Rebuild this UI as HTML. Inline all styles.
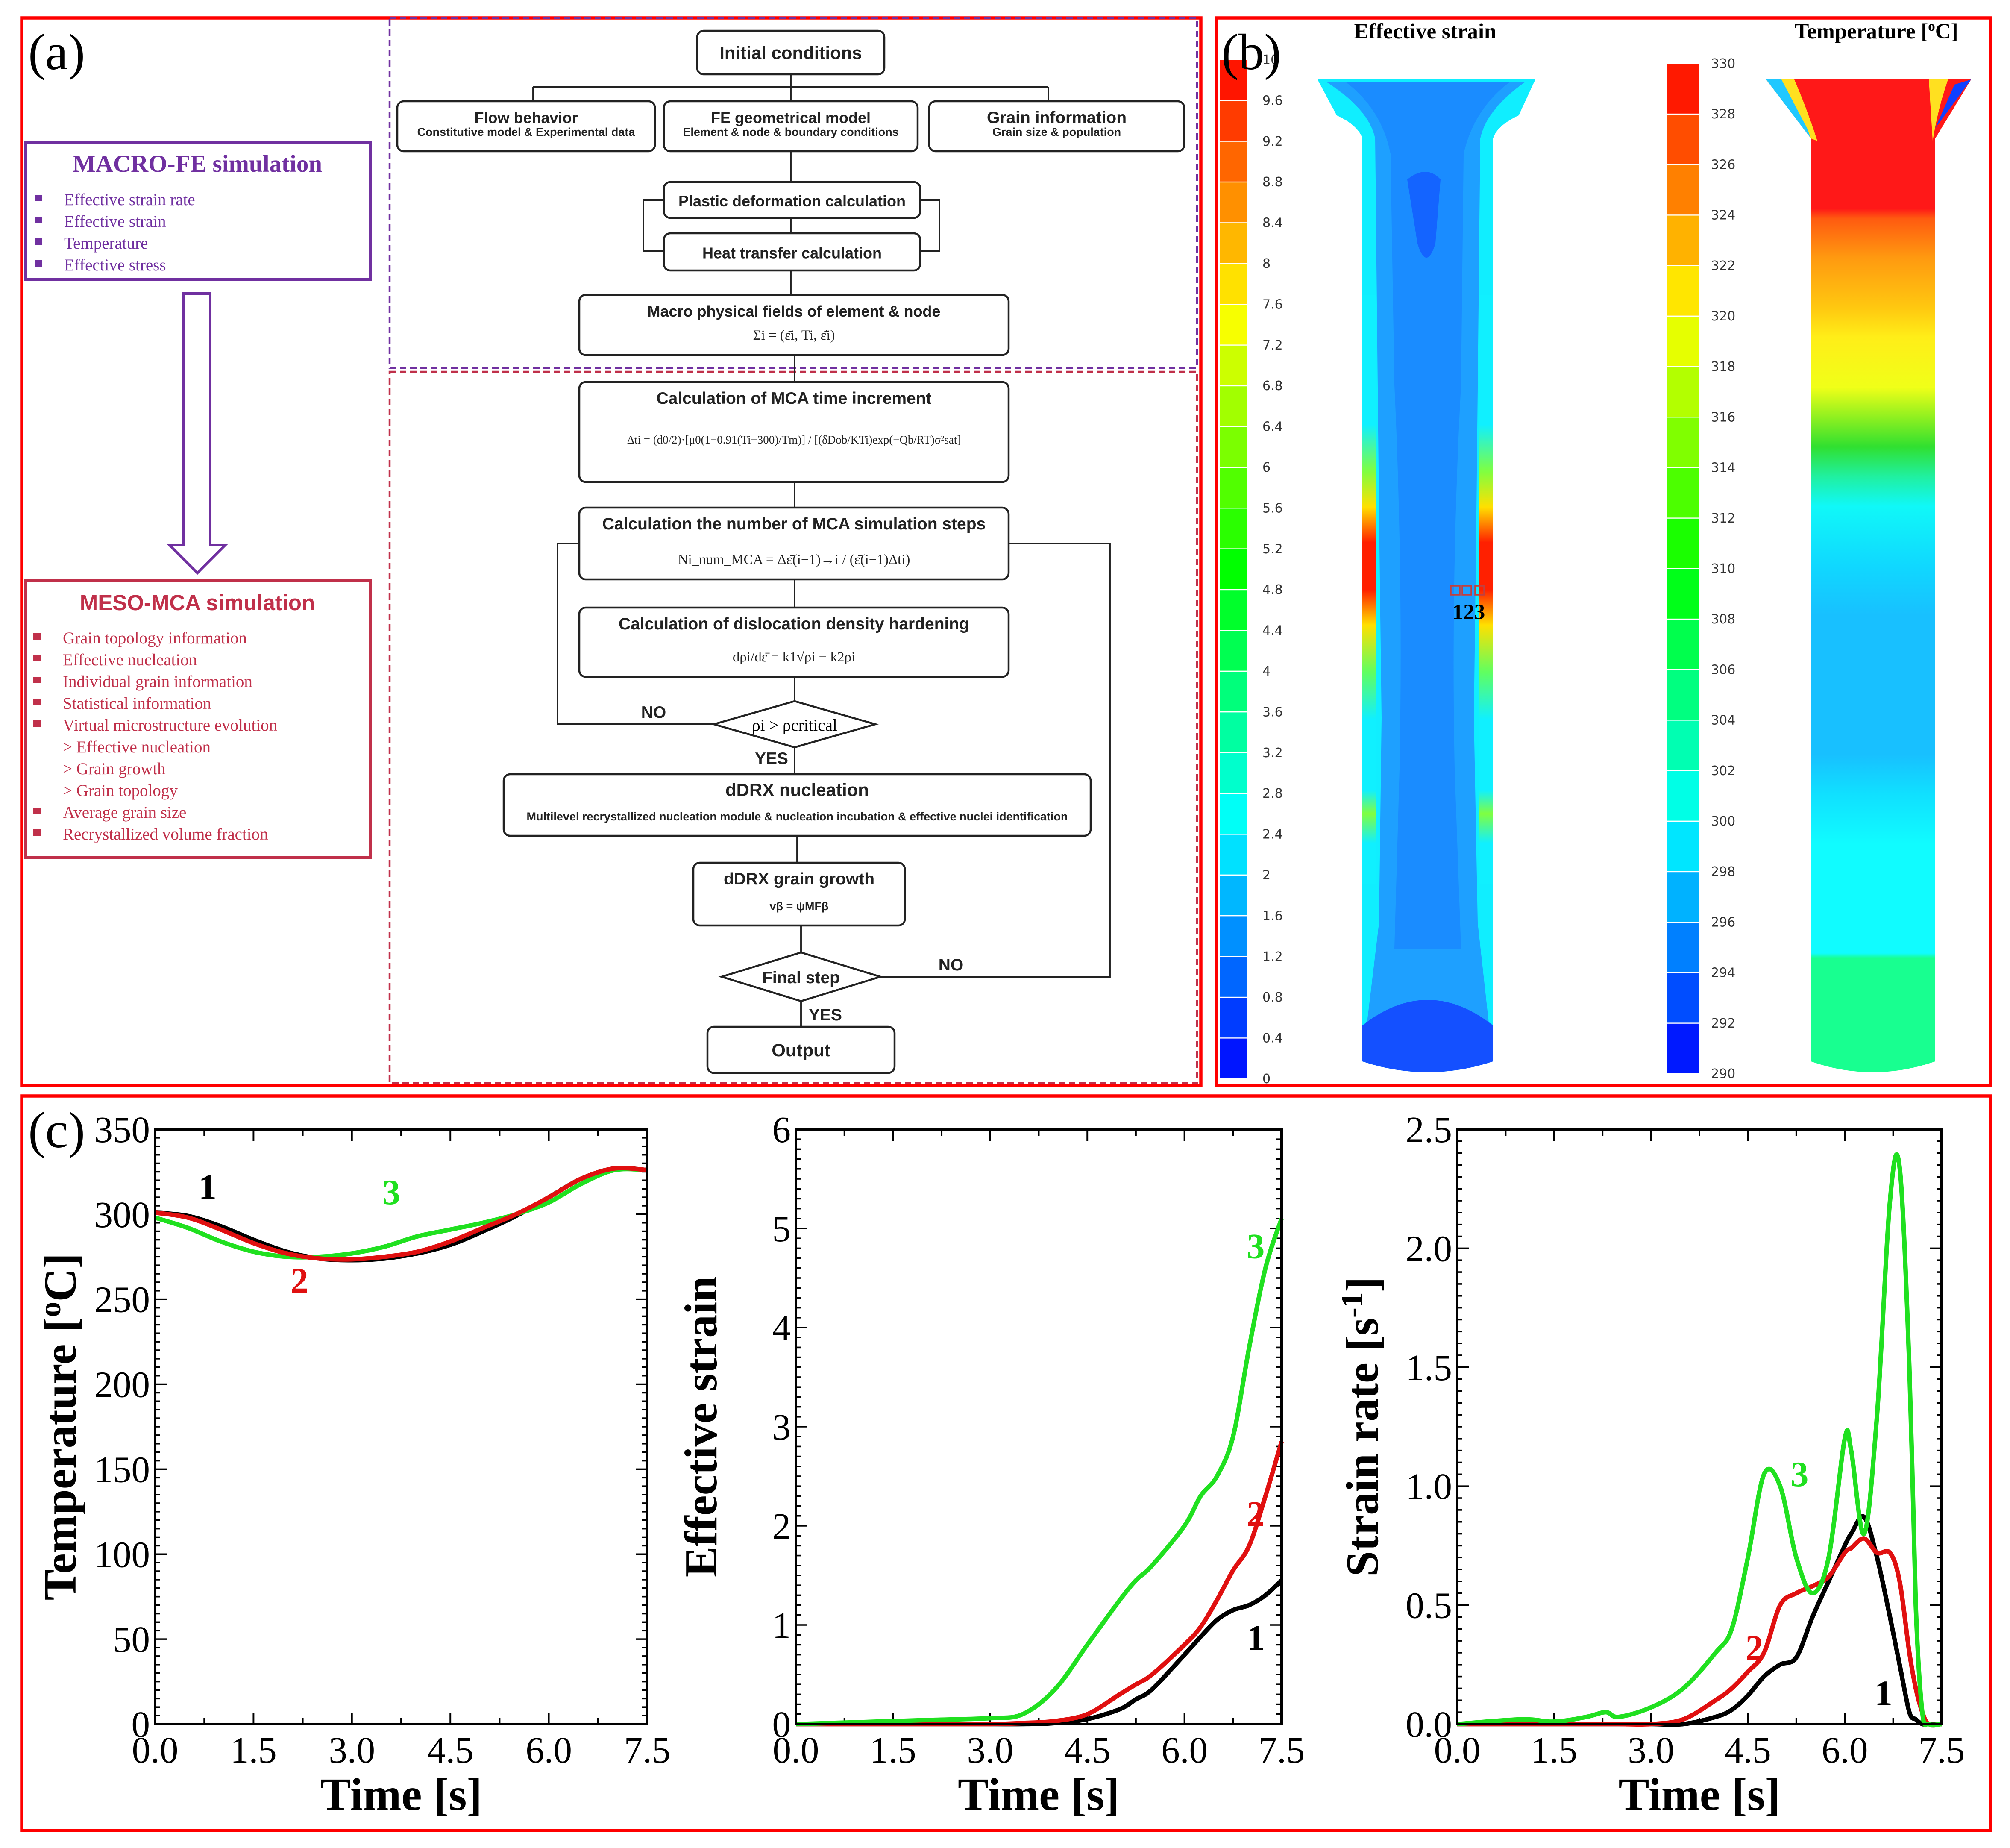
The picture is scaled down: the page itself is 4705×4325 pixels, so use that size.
<!DOCTYPE html>
<html><head><meta charset="utf-8"><style>
html,body{margin:0;padding:0;background:#fff;width:4705px;height:4325px;overflow:hidden}
svg{display:block}
.fb{font-family:"Liberation Sans",sans-serif;font-weight:bold;fill:#222}
.sr{font-family:"Liberation Serif",serif}
</style></head><body>
<svg id="root" width="4705" height="4325" viewBox="0 0 1568.33 1441.67" xmlns="http://www.w3.org/2000/svg">
<rect x="0" y="0" width="1568.33" height="1441.67" fill="#fff"/>
<rect x="17" y="14" width="920" height="833" fill="none" stroke="#f00" stroke-width="2.5"/>
<rect x="949" y="14" width="604" height="833" fill="none" stroke="#f00" stroke-width="2.5"/>
<rect x="17" y="855" width="1536" height="573" fill="none" stroke="#f00" stroke-width="2.5"/>
<text class="sr" x="22" y="54" font-size="40">(a)</text>

<g>
<rect x="20" y="111" width="269" height="107" fill="none" stroke="#7030a0" stroke-width="2"/>
<text class="sr" x="154" y="134" font-size="19" font-weight="bold" fill="#7030a0" text-anchor="middle">MACRO-FE simulation</text>
<g class="sr" font-size="13" fill="#7030a0">
<rect x="27" y="152" width="6" height="5"/><text x="50" y="160">Effective strain rate</text>
<rect x="27" y="169" width="6" height="5"/><text x="50" y="177">Effective strain</text>
<rect x="27" y="186" width="6" height="5"/><text x="50" y="194">Temperature</text>
<rect x="27" y="203" width="6" height="5"/><text x="50" y="211">Effective stress</text>
</g></g>
<path d="M143,229 H164 V425 H176 L154,447 L132,425 H143 Z" fill="#fff" stroke="#7030a0" stroke-width="2"/>
<g>
<rect x="20" y="453" width="269" height="216" fill="none" stroke="#c0304a" stroke-width="2"/>
<text class="fb" x="154" y="476" font-size="17" style="fill:#c0304a" text-anchor="middle">MESO-MCA simulation</text>
<g class="sr" font-size="13" fill="#c0304a" id="mesoList"></g>
</g>

<g id="flow">
<rect x="304" y="14" width="630" height="273" fill="none" stroke="#7030a0" stroke-width="1.5" stroke-dasharray="5,3"/>
<rect x="304" y="290" width="630" height="555" fill="none" stroke="#c0304a" stroke-width="1.5" stroke-dasharray="5,3"/>
</g>

<g id="panelB">
<defs>
<linearGradient id="sideG" x1="0" y1="0" x2="0" y2="1">
<stop offset="0" stop-color="#10f0ff"/><stop offset="0.22" stop-color="#10f0ff"/><stop offset="0.3" stop-color="#80ff40"/><stop offset="0.36" stop-color="#ffe000"/><stop offset="0.42" stop-color="#ff2000"/><stop offset="0.5" stop-color="#ff2000"/><stop offset="0.56" stop-color="#ffe000"/><stop offset="0.64" stop-color="#60ff60"/><stop offset="0.72" stop-color="#10f0ff"/><stop offset="0.84" stop-color="#10f0ff"/><stop offset="0.88" stop-color="#80ff40"/><stop offset="0.93" stop-color="#10f0ff"/><stop offset="1" stop-color="#10f0ff"/></linearGradient>
<linearGradient id="tempG" x1="0" y1="0" x2="0" y2="1">
<stop offset="0" stop-color="#ff1818"/><stop offset="0.13" stop-color="#ff1818"/><stop offset="0.14" stop-color="#ff5a10"/><stop offset="0.18" stop-color="#ff9a10"/><stop offset="0.23" stop-color="#ffc810"/><stop offset="0.26" stop-color="#ffee18"/><stop offset="0.31" stop-color="#f0ff18"/><stop offset="0.34" stop-color="#90f020"/><stop offset="0.37" stop-color="#30e030"/><stop offset="0.4" stop-color="#20f0a0"/><stop offset="0.43" stop-color="#10f8f8"/><stop offset="0.49" stop-color="#10d8ff"/><stop offset="0.54" stop-color="#18c0ff"/><stop offset="0.68" stop-color="#18c0ff"/><stop offset="0.72" stop-color="#10e0ff"/><stop offset="0.77" stop-color="#10fcff"/><stop offset="0.88" stop-color="#10fcff"/><stop offset="0.885" stop-color="#18ff90"/><stop offset="1" stop-color="#18ff90"/></linearGradient>
</defs>
<path d="M1028,62 H1198 L1185,90 Q1168,98 1165,108 V828 Q1114,845 1063,828 V108 Q1060,98 1043,90 Z" fill="#10eeff"/>
<path d="M1035,64 H1190 Q1160,85 1155,108 L1152,400 L1150,560 L1153,720 L1165,828 H1063 L1076,720 L1078,560 L1076,400 L1073,108 Q1068,85 1035,64 Z" fill="#1ea0ff"/>
<path d="M1050,64 H1178 Q1150,85 1142,120 L1140,300 Q1132,450 1135,600 L1140,740 H1088 L1092,600 Q1095,450 1088,300 L1085,120 Q1078,85 1050,64 Z" fill="#1a8cff"/>
<rect x="1063" y="230" width="11" height="460" fill="url(#sideG)"/>
<rect x="1154" y="230" width="11" height="460" fill="url(#sideG)"/>
<path d="M1098,140 Q1113,128 1124,140 L1120,190 Q1113,212 1106,190 Z" fill="#1464ff"/>
<path d="M1063,800 Q1114,760 1165,800 V828 Q1114,845 1063,828 Z" fill="#1450ff"/>
<path d="M1413,62 H1538 L1510,108 V828 Q1461,845 1413,828 V108 L1378,62 Z" fill="url(#tempG)"/>
<path d="M1378,62 H1400 Q1410,85 1418,110 L1413,108 Z" fill="#ffe020"/>
<path d="M1378,62 H1390 L1410,100 L1413,108 Z" fill="#20c8ff"/>
<path d="M1505,62 H1520 Q1512,85 1508,110 Z" fill="#ffe020"/>
<path d="M1538,62 L1525,66 L1510,100 Z" fill="#1040ff"/>
<g fill="none" stroke="#c04040" stroke-width="1.2"><rect x="1132" y="457" width="7" height="7"/><rect x="1141" y="457" width="7" height="7"/><rect x="1151" y="457" width="7" height="7"/></g>
<text class="sr" x="1146" y="483" font-size="17" font-weight="bold" text-anchor="middle">123</text>
<text class="sr" x="1112" y="30" font-size="17" font-weight="bold" text-anchor="middle">Effective strain</text>
<text class="sr" x="1464" y="30" font-size="17" font-weight="bold" text-anchor="middle">Temperature [<tspan dy="-6" font-size="11">o</tspan><tspan dy="6">C]</tspan></text>
</g>
<text class="sr" x="953" y="54" font-size="40">(b)</text>
<text class="sr" x="22" y="895" font-size="40">(c)</text>

<g id="charts"></g>
</svg>
<script>
const NS="http://www.w3.org/2000/svg";
function mk(tag,attrs,parent,txt){const e=document.createElementNS(NS,tag);for(const k in attrs)e.setAttribute(k,attrs[k]);if(txt!==undefined)e.textContent=txt;(parent||document.getElementById('root')).appendChild(e);return e;}

const mesoItems=[["b","Grain topology information"],["b","Effective nucleation"],["b","Individual grain information"],["b","Statistical information"],["b","Virtual microstructure evolution"],["s","> Effective nucleation"],["s","> Grain growth"],["s","> Grain topology"],["b","Average grain size"],["b","Recrystallized volume fraction"]];
const ml=document.getElementById('mesoList');
mesoItems.forEach((it,i)=>{const y=502+i*17;if(it[0]==="b")mk('rect',{x:26,y:y-8,width:6,height:5},ml);mk('text',{x:49,y:y},ml,it[1]);});

const flow=document.getElementById('flow');
const boxes=[
[544,24,146,34,"Initial conditions",14,null],
[310,79,201,39,"Flow behavior",12,"Constitutive model & Experimental data"],
[518,79,198,39,"FE geometrical model",12,"Element & node & boundary conditions"],
[725,79,199,39,"Grain information",13,"Grain size & population"],
[518,142,200,28,"Plastic deformation calculation",12,null],
[518,182,200,29,"Heat transfer calculation",12,null],
[452,230,335,47,"Macro physical fields of element & node",12,"Σi = (ε̄i, Ti, ε̄̇i)"],
[452,298,335,78,"Calculation of MCA time increment",13,"Δti = (d0/2)·[μ0(1−0.91(Ti−300)/Tm)] / [(δDob/KTi)exp(−Qb/RT)σ²sat]"],
[452,396,335,56,"Calculation the number of MCA simulation steps",13,"Ni_num_MCA = Δε̄(i−1)→i / (ε̄̇(i−1)Δti)"],
[452,474,335,54,"Calculation of dislocation density hardening",13,"dρi/dε̄ = k1√ρi − k2ρi"],
[393,604,458,48,"dDRX nucleation",14,"Multilevel recrystallized nucleation module & nucleation incubation & effective nuclei identification"],
[541,673,165,49,"dDRX grain growth",13,"vβ = ψMFβ"],
[552,801,146,36,"Output",14,null]];
boxes.forEach(b=>{
 const g=mk('g',{},flow);
 
 
 mk('rect',{x:b[0],y:b[1],width:b[2],height:b[3],rx:5,fill:'#fff',stroke:'#222','stroke-width':1.5},g);
 const cx=b[0]+b[2]/2;
 if(b[6]){mk('text',{x:cx,y:b[1]+17,'font-size':b[5],'text-anchor':'middle',class:'fb'},g,b[4]);
  const big=b[3]>60;
  mk('text',{x:cx,y:b[1]+b[3]-(big?30:12),'font-size':big?9:(b[2]>400?9:(b[2]<220?9:11)),'text-anchor':'middle',class:(b[2]>400||b[2]<220)?'fb':'sr',fill:'#222'},g,b[6]);}
 else mk('text',{x:cx,y:b[1]+b[3]/2+5,'font-size':b[5],'text-anchor':'middle',class:'fb'},g,b[4]);
});
[[620,565,63,18,"ρi > ρcritical",'sr'],[625,762,62,19,"Final step",'fb']].forEach(d=>{
 const g=mk('g',{},flow);
 
 
 mk('path',{d:`M${d[0]-d[2]},${d[1]} L${d[0]},${d[1]-d[3]} L${d[0]+d[2]},${d[1]} L${d[0]},${d[1]+d[3]} Z`,fill:'#fff',stroke:'#222','stroke-width':1.5},g);
 mk('text',{x:d[0],y:d[1]+5,'font-size':13,'text-anchor':'middle',class:d[5]},g,d[4]);
});
const lines=["M617,58 V79","M416,68 H818","M416,68 V79","M818,68 V79","M617,118 V142","M617,170 V182","M502,156 V196 H518","M718,196 H733 V156 H718","M502,156 H518","M617,211 V230","M620,277 V298","M620,376 V396","M620,452 V474","M620,528 V547","M557,565 H435 V424 H452","M620,583 V604","M622,652 V673","M625,722 V743","M687,762 H866 V424 H787","M625,781 V801"];
lines.forEach(p=>mk('path',{d:p,fill:'none',stroke:'#222','stroke-width':1.3},flow));
[["NO",510,560],["YES",602,596],["NO",742,757],["YES",644,796]].forEach(t=>mk('text',{x:t[1],y:t[2],'font-size':13,'text-anchor':'middle',class:'fb'},flow,t[0]));

const pb=document.getElementById('panelB');
function cmap(t){const h=240*(1-t);return `hsl(${h.toFixed(0)},100%,50%)`;}
const strainTicks=["0","0.4","0.8","1.2","1.6","2","2.4","2.8","3.2","3.6","4","4.4","4.8","5.2","5.6","6","6.4","6.8","7.2","7.6","8","8.4","8.8","9.2","9.6","10"];
const tempTicks=["290","292","294","296","298","300","302","304","306","308","310","312","314","316","318","320","322","324","326","328","330"];
function cbar(ticks,x,w,y0,y1,lx){const n=ticks.length-1,h=(y1-y0)/n;
 for(let i=0;i<n;i++){mk('rect',{x:x,y:y1-(i+1)*h,width:w,height:h-0.8,fill:cmap((i+0.5)/n)},pb);}
 ticks.forEach((t,i)=>mk('text',{x:lx,y:y1-i*h+3,'font-size':10,'font-family':'DejaVu Sans,sans-serif',fill:'#333'},pb,t));}
cbar(strainTicks,952,21,47,842,985);
cbar(tempTicks,1301,25,50,838,1335);

const timeT=[0,0.5,1,1.5,2,2.5,3,3.5,4,4.5,5,5.5,6,6.5,7,7.5];
const temp1=[301,299,293,285,278,274,273,274,277,282,290,299,310,321,327,326];
const temp2=[301,298,291,283,277,274,273.5,275,278,284,292,300,310,321,327,326];
const temp3=[298,292,284,278,275,275,277,281,287,291,295,300,307,318,326,326];
const timeS=[0,1,2,3,3.5,4,4.5,5,5.25,5.5,6,6.25,6.5,6.75,7,7.25,7.5];
const strain1=[0,0,0,0,0,0.01,0.05,0.15,0.25,0.35,0.7,0.88,1.05,1.15,1.2,1.3,1.45];
const strain2=[0,0,0,0,0.01,0.03,0.1,0.3,0.4,0.5,0.8,0.98,1.25,1.55,1.8,2.3,2.85];
const strain3=[0,0.02,0.04,0.06,0.1,0.35,0.8,1.25,1.45,1.6,2.0,2.3,2.5,2.9,3.8,4.6,5.1];
const timeR=[0,1,1.5,2,2.3,2.5,3,3.5,4,4.25,4.5,4.75,5,5.25,5.5,5.75,6,6.1,6.3,6.5,6.7,6.85,7,7.1,7.2,7.3,7.5];
const rate1=[0,0,0,0,0,0,0,0,0.03,0.06,0.12,0.2,0.25,0.28,0.45,0.6,0.75,0.8,0.87,0.7,0.45,0.25,0.05,0.02,0,0,0];
const rate2=[0,0,0,0,0,0,0,0.02,0.1,0.15,0.22,0.3,0.5,0.55,0.58,0.62,0.72,0.74,0.78,0.72,0.72,0.6,0.3,0.15,0.05,0,0];
const rate3=[0,0.02,0.01,0.03,0.05,0.03,0.07,0.15,0.3,0.4,0.7,1.05,1.0,0.7,0.55,0.7,1.2,1.15,0.8,1.3,2.2,2.34,1.5,0.5,0.05,0,0];
const xTicks=["0.0","1.5","3.0","4.5","6.0","7.5"];
const tempYTicks=["0","50","100","150","200","250","300","350"];
const strainYTicks=["0","1","2","3","4","5","6"];
const rateYTicks=["0.0","0.5","1.0","1.5","2.0","2.5"];
const charts=document.getElementById('charts');
function smooth(P){let d=`M${P[0][0].toFixed(1)},${P[0][1].toFixed(1)}`;
 for(let i=0;i<P.length-1;i++){const p0=P[Math.max(0,i-1)],p1=P[i],p2=P[i+1],p3=P[Math.min(P.length-1,i+2)];
  const c1=[p1[0]+(p2[0]-p0[0])/6,p1[1]+(p2[1]-p0[1])/6],c2=[p2[0]-(p3[0]-p1[0])/6,p2[1]-(p3[1]-p1[1])/6];
  d+=` C${c1[0].toFixed(1)},${c1[1].toFixed(1)} ${c2[0].toFixed(1)},${c2[1].toFixed(1)} ${p2[0].toFixed(1)},${p2[1].toFixed(1)}`;}
 return d;}
function chart(name,x0,x1,yTop,yBot,ymax,yTicks,yMinorN,series,title,labels){
 const g=mk('g',{},charts);
 
 
 const X=t=>x0+(t/7.5)*(x1-x0), Y=v=>yBot-(v/ymax)*(yBot-yTop);
 const nY=yTicks.length-1;
 for(let i=0;i<=nY*yMinorN;i++){const y=yBot-i*(yBot-yTop)/(nY*yMinorN);const L=i%yMinorN===0?9:4;
  mk('line',{x1:x0,x2:x0+L,y1:y,y2:y,stroke:'#000','stroke-width':1.2},g);mk('line',{x1:x1,x2:x1-L,y1:y,y2:y,stroke:'#000','stroke-width':1.2},g);}
 for(let i=0;i<=10;i++){const x=x0+i*(x1-x0)/10;const L=i%2===0?9:5;
  mk('line',{x1:x,x2:x,y1:yBot,y2:yBot-L,stroke:'#000','stroke-width':1.3},g);mk('line',{x1:x,x2:x,y1:yTop,y2:yTop+L,stroke:'#000','stroke-width':1.3},g);}
 yTicks.forEach((t,i)=>{const tx=mk('text',{x:x0-4,y:yBot-i*(yBot-yTop)/nY+10,'font-size':29,'text-anchor':'end',class:'sr'},g,t);});
 xTicks.forEach((t,i)=>{const tx=mk('text',{x:X(i*1.5),y:yBot+30,'font-size':29,'text-anchor':'middle',class:'sr'},g,t);});
 const xt=mk('text',{x:(x0+x1)/2,y:yBot+67,'font-size':36,'font-weight':'bold','text-anchor':'middle',class:'sr'},g,'Time [s]');
 
 const yt=mk('text',{transform:`translate(${x0-62},${(yTop+yBot)/2}) rotate(-90)`,'font-size':36,'font-weight':'bold','text-anchor':'middle',class:'sr'},g);
 
 yt.innerHTML=title;
 series.forEach(s=>{const P=s.xs.map((t,i)=>[X(t),Y(s.v[i])]);
  const pl=mk('path',{d:smooth(P),fill:'none',stroke:s.c,'stroke-width':3.5,'stroke-linejoin':'round'},g);
  });
 mk('rect',{x:x0,y:yTop,width:x1-x0,height:yBot-yTop,fill:'none',stroke:'#000','stroke-width':2},g);
 labels.forEach(l=>{const tx=mk('text',{x:X(l[0]),y:Y(l[1]),'font-size':28,'font-weight':'bold','text-anchor':'middle',class:'sr',fill:l[3]},g,l[2]);});
}
const K='#000',R='#e01010',G='#20e020';
chart('temperature-chart',121,505,881,1345,350,tempYTicks,10,[{xs:timeT,v:temp1,c:K},{xs:timeT,v:temp3,c:G},{xs:timeT,v:temp2,c:R}],'Temperature [<tspan dy="-12" font-size="24">o</tspan><tspan dy="12">C]</tspan>',[[0.8,309,'1',K],[2.2,254,'2',R],[3.6,306,'3',G]]);
chart('effective-strain-chart',621,1000,881,1345,6,strainYTicks,10,[{xs:timeS,v:strain1,c:K},{xs:timeS,v:strain2,c:R},{xs:timeS,v:strain3,c:G}],'Effective strain',[[7.1,0.75,'1',K],[7.1,2.0,'2',R],[7.1,4.7,'3',G]]);
chart('strain-rate-chart',1137,1515,881,1345,2.5,rateYTicks,10,[{xs:timeR,v:rate1,c:K},{xs:timeR,v:rate2,c:R},{xs:timeR,v:rate3,c:G}],'Strain rate [s<tspan dy="-12" font-size="24">-1</tspan><tspan dy="12">]</tspan>',[[6.6,0.08,'1',K],[4.6,0.27,'2',R],[5.3,1.0,'3',G]]);
</script>
</body></html>
